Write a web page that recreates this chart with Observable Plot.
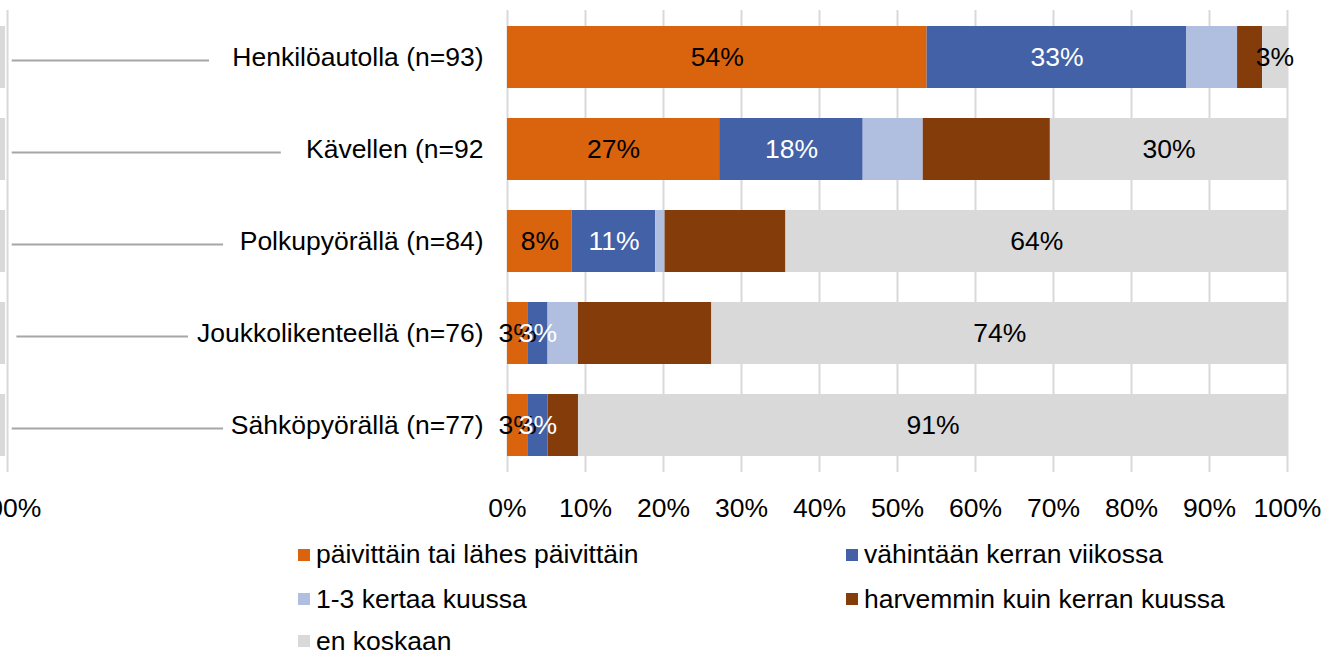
<!DOCTYPE html>
<html>
<head>
<meta charset="utf-8">
<script src="https://cdn.jsdelivr.net/npm/d3@7"></script>
<script src="https://cdn.jsdelivr.net/npm/@observablehq/plot@0.6"></script>
<style>
  html, body { margin: 0; padding: 0; background: #fff; overflow: hidden; }
  #wrap { width: 1324px; height: 652px; position: relative; font-family: "Liberation Sans", Arial, sans-serif; }
  #legend { display: grid; grid-template-columns: 548px auto; grid-template-rows: 45px 44px 40px; padding-left: 298px; margin-top: 2px; font-size: 26.5px; line-height: 1; color: #000; }
  .item { display: flex; align-items: center; white-space: nowrap; }
  .sw { width: 12px; height: 12px; margin-right: 6px; flex: none; }
</style>
</head>
<body>
<div id="wrap"><div id="chart"></div><div id="legend"></div></div>
<script>
// ---- data ----
const categories = ["Henkilöautolla (n=93)", "Kävellen (n=92", "Polkupyörällä (n=84)", "Joukkolikenteellä (n=76)", "Sähköpyörällä (n=77)"];
const seriesNames = ["päivittäin tai lähes päivittäin", "vähintään kerran viikossa", "1-3 kertaa kuussa", "harvemmin kuin kerran kuussa", "en koskaan"];
const daily   = [53.8, 27.2,  8.3,  2.6,  2.6];
const weekly  = [33.3, 18.4, 10.7,  2.6,  2.6];
const monthly = [ 6.5,  7.7,  1.2,  3.9,  0.0];
const rarely  = [ 3.2, 16.3, 15.5, 17.1,  3.9];
const never   = [ 3.2, 30.4, 64.3, 73.8, 90.9];
const xTicks = [0, 10, 20, 30, 40, 50, 60, 70, 80, 90, 100];
const labelledSeries = [0, 1, 4];

// remnant of a neighbouring chart visible at the left edge (in this chart's % units)
const neighborEnd = -64.1;
const leaderStart = [-63.5, -63.5, -63.5, -62.9, -63.5];
const leaderEnd   = [-38.2, -29.0, -36.4, -40.9, -36.4];

// ---- styles ----
const colors = ["#DA630D", "#4361A6", "#B0BEE0", "#843C0B", "#D9D9D9"];
const labelColors = ["#000", "#fff", "#000", "#fff", "#000"];

// ---- build table ----
const seriesValues = [daily, weekly, monthly, rarely, never];
const rows = [];
categories.forEach((cat, i) => {
  let acc = 0;
  seriesValues.forEach((vals, s) => {
    const v = vals[i];
    rows.push({cat, series: seriesNames[s], s, value: v, x1: acc, x2: acc + v, mid: acc + v / 2});
    acc += v;
  });
});
const labelRows = rows.filter(d => labelledSeries.includes(d.s) && d.value > 0);
const leaders = categories.map((cat, i) => ({cat, from: leaderStart[i], to: leaderEnd[i]}));

const chart = Plot.plot({
  width: 1324,
  height: 530,
  marginLeft: 507,
  marginRight: 37,
  marginTop: 10,
  marginBottom: 58,
  style: {fontFamily: "'Liberation Sans', Arial, sans-serif", fontSize: "26.5px", color: "#000", background: "#fff", overflow: "visible"},
  x: {domain: [0, 100], label: null},
  y: {domain: categories, paddingInner: 0.326, paddingOuter: 0.163, label: null},
  color: {domain: seriesNames, range: colors},
  marks: [
    Plot.gridX(xTicks, {stroke: "#d9d9d9", strokeOpacity: 1, strokeWidth: 2}),
    // neighbouring chart remnant
    Plot.gridX([neighborEnd], {stroke: "#d9d9d9", strokeOpacity: 1, strokeWidth: 2}),
    Plot.rectX(categories, {y: d => d, x1: () => -66, x2: () => neighborEnd - 0.25, fill: "#d9d9d9"}),
    Plot.ruleY(leaders, {y: "cat", x1: "from", x2: "to", stroke: "#a6a6a6", strokeWidth: 2, dy: 3}),
    Plot.axisX([neighborEnd], {tickSize: 0, tickPadding: 26, tickFormat: () => "100%", label: null}),
    // bars
    Plot.rectX(rows, {y: "cat", x1: "x1", x2: "x2", fill: "series"}),
    Plot.text(labelRows, {y: "cat", x: "mid", text: d => Math.round(d.value) + "%", fill: d => labelColors[d.s], fontSize: 26.5}),
    Plot.axisX(xTicks, {tickSize: 0, tickPadding: 26, tickFormat: d => d + "%", label: null}),
    Plot.axisY({tickSize: 0, tickPadding: 24, label: null})
  ]
});
document.getElementById("chart").appendChild(chart);

// legend
const legend = document.getElementById("legend");
seriesNames.forEach((name, i) => {
  const it = document.createElement("div");
  it.className = "item";
  const sw = document.createElement("span");
  sw.className = "sw";
  sw.style.background = colors[i];
  const tx = document.createElement("span");
  tx.textContent = name;
  it.appendChild(sw); it.appendChild(tx);
  legend.appendChild(it);
});
</script>
</body>
</html>
